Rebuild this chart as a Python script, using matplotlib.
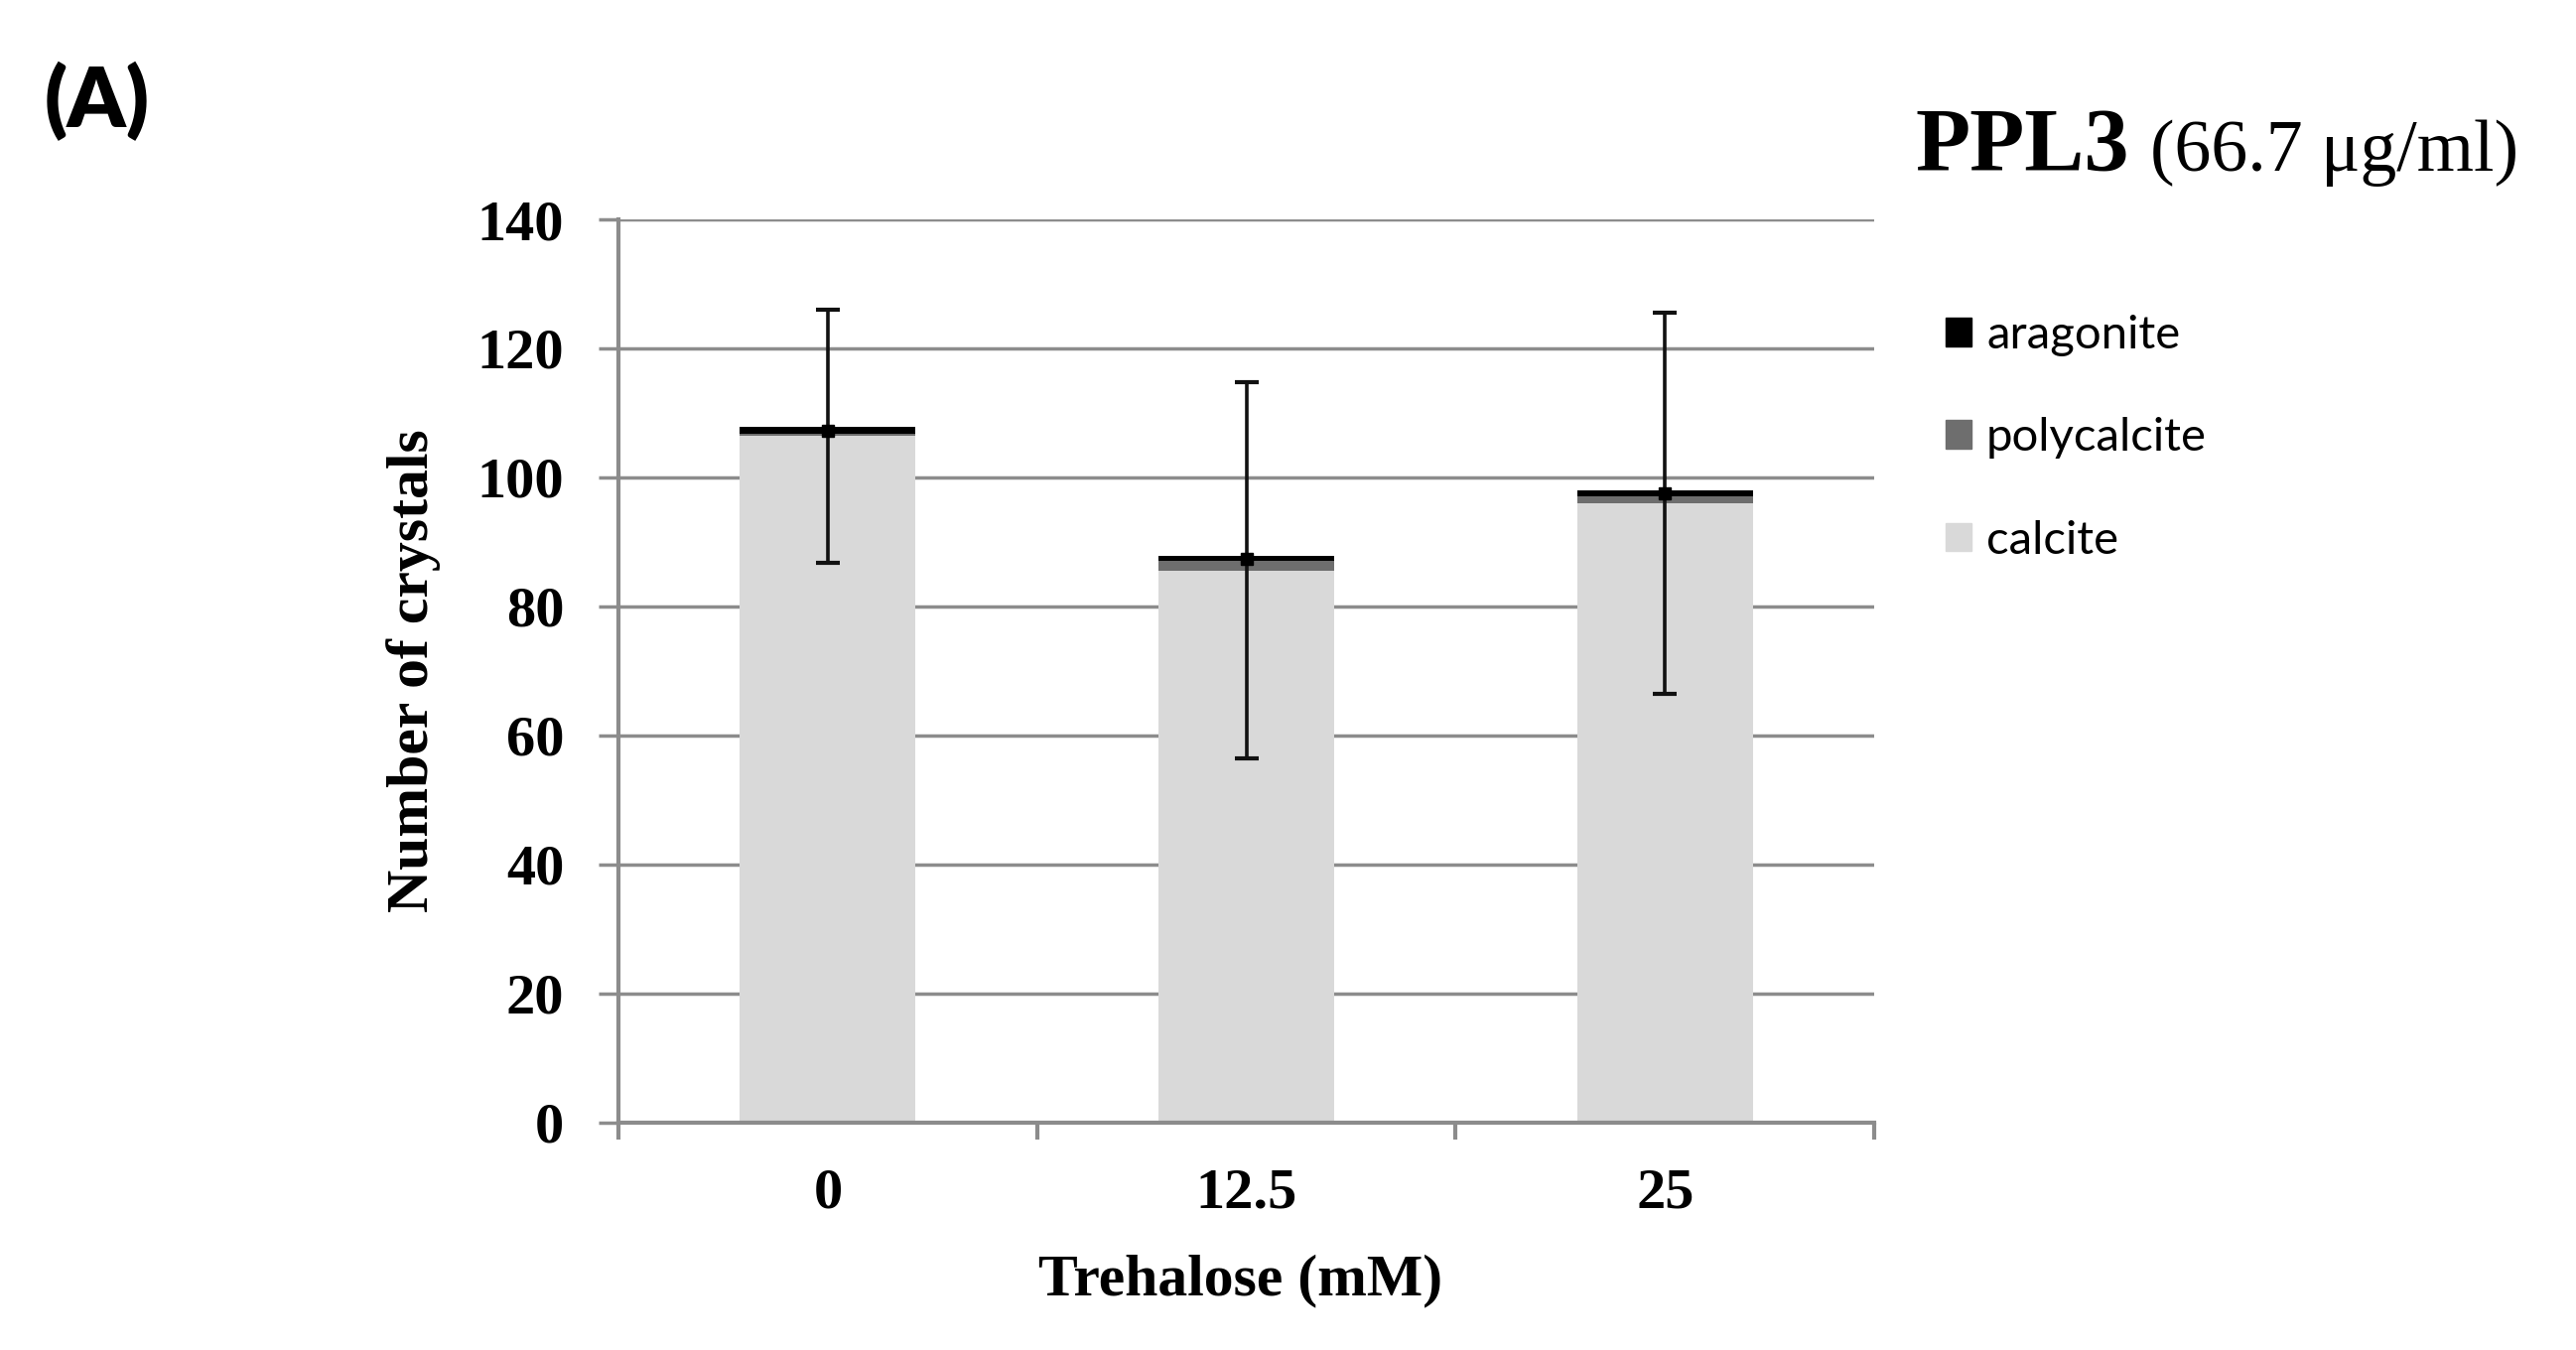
import matplotlib
matplotlib.use("Agg")
import matplotlib.pyplot as plt
from matplotlib.patches import Patch
import numpy as np

# donnees
trehalose = ["0", "12.5", "25"]
calcite = [106.4, 85.6, 96.0]
polycalcite = [0.3, 1.4, 1.1]
aragonite = [1.1, 0.9, 0.9]
erreur = [19.6, 29.1, 29.5]

c_calcite = "#d9d9d9"
c_poly = "#6e6e6e"
c_arag = "#000000"
c_grille = "#8c8c8c"

serif = "Liberation Serif"

fig = plt.figure(figsize=(25.95, 13.6), dpi=100)
ax = fig.add_axes([0.2401, 0.1684, 0.4875, 0.6691])

x = np.arange(len(trehalose))
larg = 0.42
bas2 = np.array(calcite) + np.array(polycalcite)

ax.bar(x, calcite, larg, color=c_calcite, zorder=2)
ax.bar(x, polycalcite, larg, bottom=calcite, color=c_poly, zorder=2)
ax.bar(x, aragonite, larg, bottom=bas2, color=c_arag, zorder=2)

# barres d'erreur centrees sur la calcite
ax.errorbar(x, calcite, yerr=erreur, fmt="none", ecolor="#111111",
            elinewidth=2.6, capsize=8.3, capthick=3, zorder=4)
ax.plot(x, bas2 + np.array(aragonite) / 2, "s", color="#000000", ms=8, zorder=5)

ax.set_xlim(-0.5, 2.5)
ax.set_ylim(0, 140)
ax.set_yticks(np.arange(0, 141, 20))
ax.yaxis.grid(True, color=c_grille, linewidth=2.5, zorder=0)
ax.set_axisbelow(True)

for s in ["top", "right"]:
    ax.spines[s].set_visible(False)
for s in ["left", "bottom"]:
    ax.spines[s].set_color(c_grille)
    ax.spines[s].set_linewidth(3)

ax.set_xticks(x)
ax.set_xticklabels(trehalose)
ax.set_xticks([-0.5, 0.5, 1.5, 2.5], minor=True)
ax.tick_params(axis="x", which="major", length=0, pad=33)
ax.tick_params(axis="x", which="minor", length=12, width=3, color=c_grille, direction="out")
ax.tick_params(axis="y", length=14.4, width=2.5, color=c_grille, pad=25)

for lab in ax.get_xticklabels() + ax.get_yticklabels():
    lab.set_fontfamily(serif)
    lab.set_fontweight("bold")
    lab.set_fontsize(42)

ax.set_ylabel("Number of crystals", fontfamily=serif, fontweight="bold", fontsize=43, va="center")
ax.yaxis.set_label_coords(-0.1636, 0.5)
ax.set_xlabel("Trehalose (mM)", fontfamily=serif, fontweight="bold", fontsize=43, va="center")
ax.xaxis.set_label_coords(0.4955, -0.1747)

# titre
fig.text(1929 / 2595, 1 - 172 / 1360, "PPL3", fontfamily=serif, fontweight="bold",
         fontsize=65, ha="left", va="baseline")
fig.text(2537 / 2595, 1 - 172 / 1360, "(66.7 μg/ml)", fontfamily=serif,
         fontsize=53, ha="right", va="baseline")

fig.text(45 / 2595, 1 - 102 / 1360, "(A)", fontfamily="Lato", fontweight="heavy",
         fontsize=60, ha="left", va="center")

poignees = [Patch(color=c_arag, label="aragonite"),
            Patch(color=c_poly, label="polycalcite"),
            Patch(color=c_calcite, label="calcite")]
fig.legend(handles=poignees, loc="upper left", bbox_to_anchor=(1960 / 2595, 1 - 317 / 1360),
           frameon=False, borderpad=0, borderaxespad=0, handlelength=0.55, handleheight=0.55,
           handletextpad=0.32, labelspacing=1.3, prop={"family": "Lato", "size": 34})

fig.savefig("out.png", dpi=100)
